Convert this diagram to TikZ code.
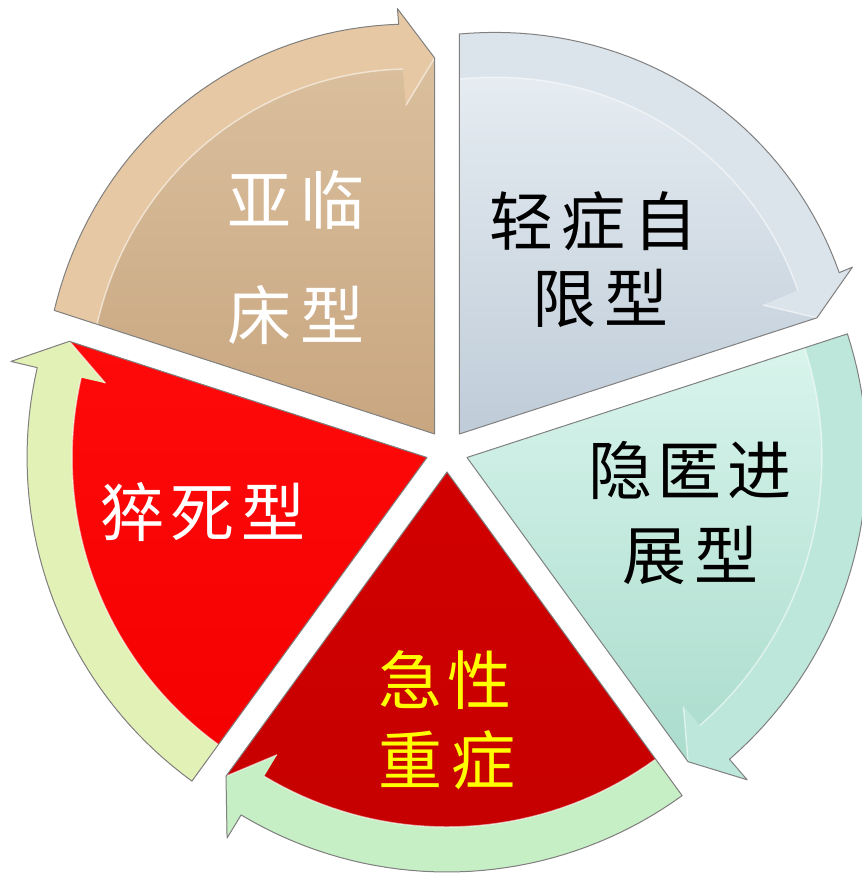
\documentclass[tikz,border=0pt]{standalone}
\usepackage{fontspec}
\newfontfamily\cjk{Noto Sans CJK SC}
\definecolor{tanA}{HTML}{DDC3A2}
\definecolor{tanB}{HTML}{C8A680}
\definecolor{tanBand}{HTML}{E6C9A4}
\definecolor{bluA}{HTML}{EAF0F5}
\definecolor{bluB}{HTML}{BFCCD8}
\definecolor{bluBand}{HTML}{DCE4EB}
\definecolor{cyaA}{HTML}{DAF5ED}
\definecolor{cyaB}{HTML}{A8DBCB}
\definecolor{cyaBand}{HTML}{BDE7DA}
\definecolor{drA}{HTML}{D20000}
\definecolor{drB}{HTML}{C40000}
\definecolor{drBand}{HTML}{C6EFC6}
\definecolor{rdA}{HTML}{FF0A0A}
\definecolor{rdB}{HTML}{F50000}
\definecolor{rdBand}{HTML}{E2F1B6}
\definecolor{txtYellow}{HTML}{FFFF00}
\tikzset{
  outline/.style={draw=black!50, line width=1pt, line join=round},
  bevel/.style={draw=white, opacity=0.55, line width=1.4pt},
  lbl/.style={font=\cjk\fontsize{64}{64}\selectfont, inner sep=0pt, anchor=center}
}
% #1 bisector, #2 tail angle, #3 tip angle, #4 top colour, #5 bottom colour, #6 band colour, #7 bulge
\newcommand\segpiece[7]{%
  \begin{scope}[shift={(#1:21)}]
    \shade[top color=#4, bottom color=#5]
      (0,0) -- plot[domain=0:1, samples=40] ({#2+(#3+5-#2)*\x}:{400+#7*sin(135*\x)})
      -- ({#3+5}:427) -- (#3:376) -- cycle;
    \fill[#6]
      plot[domain=0:1, samples=40] ({#2+(#3+5-#2)*\x}:{400+#7*sin(135*\x)})
      -- ({#3+5}:427) -- (#3:376) -- ({#3+5}:330) -- ({#3+5}:{355+0.7071*#7})
      -- plot[domain=1:0, samples=40] ({#2+(#3+5-#2)*\x}:{355+#7*sin(135*\x)}) -- cycle;
    \draw[bevel] plot[domain=1:0, samples=40] ({#2+(#3+5-#2)*\x}:{355+#7*sin(135*\x)});
    \draw[bevel] ({#3+5}:330) -- (#3:376);
    \draw[outline]
      (0,0) -- plot[domain=0:1, samples=40] ({#2+(#3+5-#2)*\x}:{400+#7*sin(135*\x)})
      -- ({#3+5}:427) -- (#3:376) -- cycle;
  \end{scope}}
\begin{document}
\begin{tikzpicture}[x=1pt,y=1pt]
  \useasboundingbox (0,0) rectangle (862,876);
  \fill[white] (0,0) rectangle (862,876);
  \begin{scope}[shift={(447,425)}]
    \segpiece{126}{162}{90}{tanA}{tanB}{tanBand}{16}
    \segpiece{54}{90}{18}{bluA}{bluB}{bluBand}{18}
    \segpiece{-18}{18}{-54}{cyaA}{cyaB}{cyaBand}{0}
    \segpiece{-90}{-54}{-126}{drA}{drB}{drBand}{0}
    \segpiece{-162}{-126}{-198}{rdA}{rdB}{rdBand}{0}
  \end{scope}
  \node[lbl, text=white] (tan1) at (296,676) {亚\hspace{10pt}临};
  \node[lbl, text=white] (tan2) at (296,561) {床\hspace{10pt}型};
  \node[lbl, text=black] (blu1) at (593,655) {轻\hspace{8pt}症\hspace{8pt}自};
  \node[lbl, text=black] (blu2) at (600,578) {限\hspace{8pt}型};
  \node[lbl, text=black] (cya1) at (690,406) {隐\hspace{6pt}匿\hspace{6pt}进};
  \node[lbl, text=black] (cya2) at (690,321) {展\hspace{8pt}型};
  \node[lbl, text=txtYellow] (dr1) at (445,196) {急\hspace{6pt}性};
  \node[lbl, text=txtYellow] (dr2) at (447,116) {重\hspace{10pt}症};
  \node[lbl, text=white] (rd1) at (203,364) {猝\hspace{7pt}死\hspace{7pt}型};
\end{tikzpicture}
\end{document}
